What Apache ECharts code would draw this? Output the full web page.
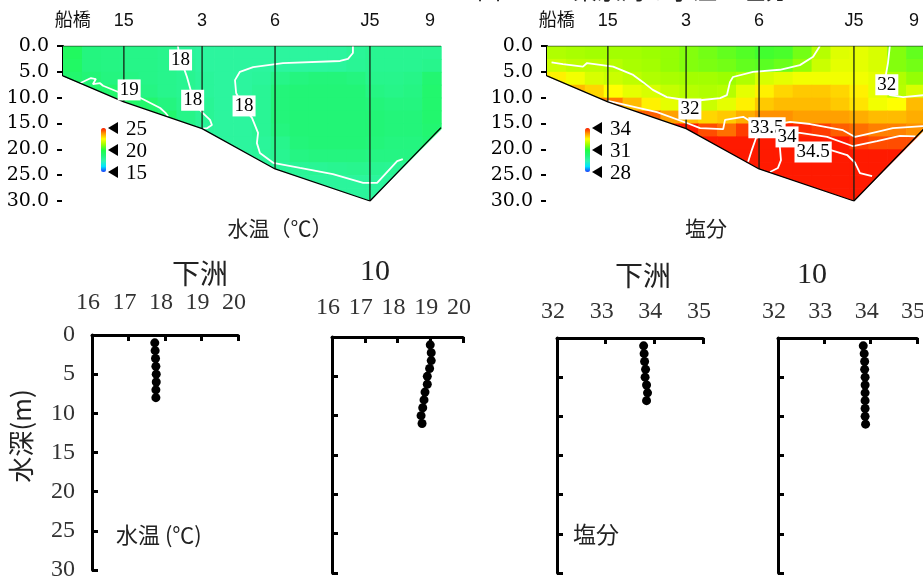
<!DOCTYPE html>
<html><head><meta charset="utf-8">
<script src="https://cdn.jsdelivr.net/npm/echarts@6/dist/echarts.min.js"></script>
<style>html,body{margin:0;padding:0;background:#fff}#c{width:923px;height:583px}</style>
</head><body><div id="c"></div>
<script>
// ---------------- data ----------------
const stationNames = ['船橋','15','3','6','J5','9'];
const stationDist = [2.6,16.1,36.8,56.1,81.2,97.1];
const bottomDist = [0,16.1,36.8,56.1,81.2,100];
const bottomDepth = [5.8,10.8,16.0,23.8,30.0,15.8];
const castDist = [16.1,36.8,56.1,81.2];
const castDepth = [10.8,16.0,23.8,30.0];
const gridDist = [0,5,10,15,20,25,30,35,40,45,50,55,60,65,70,75,80,85,90,95,100];
const gridDepth = [0,2.5,5,7.5,10,12.5,15,17.5,20,22.5,25,27.5,30];

const tempGrid = [
 [19.3,18.6,18.5,18.4,18.4,18.3,18.0,17.9,17.9,17.9,17.9,17.9,17.9,17.9,17.9,18.05,18.2,18.2,18.2,18.2],
 [19.2,18.6,18.5,18.4,18.4,18.3,18.1,17.9,17.9,17.9,17.9,17.9,17.9,17.9,17.95,18.1,18.2,18.2,18.2,18.3],
 [19.0,18.8,18.6,18.5,18.4,18.3,18.2,18.0,17.9,17.9,18.0,18.4,18.6,18.7,18.7,18.6,18.3,18.3,18.4,18.9],
 [19.0,19.0,19.0,18.7,18.5,18.3,18.2,18.0,17.9,17.9,18.1,18.7,18.8,18.8,18.8,18.8,18.5,18.4,18.5,19.0],
 [19.0,19.1,19.1,19.1,19.0,18.6,18.3,18.1,17.9,17.9,18.1,18.7,18.8,18.8,18.8,18.8,18.7,18.6,18.6,19.0],
 [19.0,19.1,19.1,19.2,19.1,19.0,18.4,18.1,17.9,17.9,18.1,18.7,18.8,18.8,18.8,18.8,18.8,18.7,18.7,19.0],
 [19.0,19.1,19.1,19.2,19.1,19.0,18.4,18.0,17.9,17.9,18.1,18.6,18.8,18.8,18.8,18.8,18.8,18.7,18.7,18.9],
 [19.0,19.1,19.1,19.2,19.1,19.0,18.4,18.0,17.9,17.9,18.0,18.3,18.7,18.8,18.8,18.8,18.7,18.6,18.6,18.8],
 [19.0,19.1,19.1,19.2,19.1,19.0,18.4,18.0,17.9,17.9,18.0,18.2,18.5,18.6,18.6,18.6,18.5,18.5,18.5,18.7],
 [19.0,19.1,19.1,19.2,19.1,19.0,18.4,18.0,17.9,17.9,18.0,18.0,18.05,18.1,18.2,18.25,18.2,18.15,18.1,18.2],
 [19.0,19.1,19.1,19.2,19.1,19.0,18.4,18.0,17.9,17.9,18.0,18.0,17.95,17.95,17.95,17.95,17.95,18.0,18.1,18.2],
 [19.0,19.1,19.1,19.2,19.1,19.0,18.4,18.0,17.9,17.9,18.0,18.0,17.95,17.95,17.95,17.95,17.95,17.95,18.0,18.1]
];
const salGrid = [
 [31.9,31.85,31.8,31.8,31.8,31.75,31.7,31.6,31.5,31.4,31.3,31.2,31.25,31.5,31.95,32.25,32.3,32.2,31.6,31.4],
 [32.1,32.0,32.0,31.95,31.85,31.8,31.7,31.6,31.55,31.5,31.4,31.35,31.45,31.7,32.1,32.3,32.3,32.2,31.6,31.5],
 [32.6,32.4,32.2,32.1,32.0,31.9,31.85,31.8,31.8,31.75,31.9,32.2,32.3,32.4,32.4,32.4,32.4,32.3,31.9,31.7],
 [33.0,33.0,32.8,32.5,32.3,32.2,32.05,31.95,31.9,31.95,32.3,32.6,32.8,32.9,32.9,32.8,32.6,32.3,31.95,32.2],
 [33.4,33.4,33.4,33.4,33.0,32.6,32.3,32.1,32.1,32.3,32.6,32.9,33.0,33.0,33.0,32.9,32.7,32.4,32.5,33.0],
 [33.6,33.6,33.6,33.6,33.6,33.6,33.2,33.0,32.8,32.9,33.1,33.3,33.3,33.2,33.2,33.2,33.1,33.0,33.0,33.1],
 [34.0,34.0,34.0,34.0,34.0,34.0,34.0,34.0,33.7,33.5,33.8,34.2,34.0,33.9,33.8,33.6,33.5,33.4,33.4,33.3],
 [34.3,34.3,34.3,34.3,34.3,34.3,34.3,34.3,34.3,34.2,34.4,34.5,34.4,34.2,34.1,34.0,33.8,33.7,33.7,33.7],
 [34.6,34.6,34.6,34.6,34.6,34.6,34.6,34.6,34.6,34.6,34.6,34.6,34.6,34.6,34.5,34.4,34.3,34.2,34.1,34.0],
 [34.7,34.7,34.7,34.7,34.7,34.7,34.7,34.7,34.7,34.7,34.7,34.7,34.7,34.7,34.6,34.6,34.5,34.4,34.3,34.3],
 [34.7,34.7,34.7,34.7,34.7,34.7,34.7,34.7,34.7,34.7,34.7,34.7,34.7,34.7,34.7,34.7,34.7,34.6,34.5,34.4],
 [34.7,34.7,34.7,34.7,34.7,34.7,34.7,34.7,34.7,34.7,34.7,34.7,34.7,34.7,34.7,34.7,34.7,34.7,34.6,34.5]
];

const tempContour18a = [[30.4,0],[30.7,1.7],[31.7,3.7],[32.8,6.0],[33.6,8.1],[34.4,10.3],[35.4,11.6],[37.0,13.0],[38.9,14.3],[39.4,15.3],[38.1,15.9],[37.0,16.0]];
const tempContour18b = [[76.7,0],[76.7,1.35],[75.4,2.5],[73.3,2.9],[58.2,3.3],[50.3,4.1],[46.8,5.0],[45.5,6.6],[45.8,9.1],[47.6,11.8],[50.0,13.9],[51.6,16.8],[51.3,18.8],[52.1,20.7],[55.6,22.6],[62.7,23.6],[71.4,24.8],[79.4,26.5],[83.1,26.5],[88.4,22.3],[89.9,21.9]];
const tempContour19 = [[4.5,7.2],[7.4,6.2],[8.7,6.4],[7.9,7.4],[9.8,7.2],[10.6,7.7],[15.3,9.1],[17.7,9.1],[21.2,10.3],[25.7,12.0],[27.2,13.0],[27.8,13.6]];
const tempLabels = [[31.1,2.7,'18'],[34.3,10.5,'18'],[47.9,11.6,'18'],[17.5,8.5,'19']];

const salContour32a = [[1.2,3.15],[4.2,3.5],[9.5,4.0],[10.6,3.3],[17.5,4.0],[22.8,5.6],[25.4,7.0],[28.0,8.5],[31.7,9.9],[37.0,10.5],[40.5,10.5],[45.8,10.1],[47.6,9.5],[48.4,7.0],[49.2,6.0],[54.5,5.0],[61.6,4.6],[66.9,3.7],[70.4,2.1],[72.2,0]];
const salContour32b = [[90.7,0],[90.2,3.3],[89.4,6.6],[90.7,9.5],[94.2,9.9],[100,9.5]];
const salContour335 = [[16.1,10.6],[29.1,12.8],[37.0,14.9],[40.5,15.9],[46.6,16.1],[47.1,14.3],[51.9,13.7],[56.3,15.7],[64.3,14.7],[69.6,15.1],[78.3,16.3],[81.5,17.6],[87.3,16.6],[91.5,15.9],[100,15.5]];
const salContour34 = [[53.2,22.4],[54.2,20.1],[55.3,17.8],[59.0,16.8],[66.9,16.8],[74.1,17.6],[81.0,19.4],[87.3,18.4],[93.4,17.4],[97.5,17.5]];
const salContour345a = [[61.6,19.5],[61.9,22.1],[61.1,23.6],[59.0,24.4]];
const salContour345b = [[74.9,20.1],[79.4,21.1],[81.5,22.6],[82.8,24.6],[86.0,25.2]];
const salLabels = [[37.8,12.2,'32'],[89.9,7.5,'32'],[58.2,15.8,'33.5'],[63.5,17.6,'34'],[70.4,20.5,'34.5']];

const tempBarTicks = [25,20,15];
const salBarTicks = [34,31,28];

const depthShimosu = [1,2,3,4,5,6,7,8];
const tempShimosu = [17.72,17.73,17.74,17.75,17.76,17.76,17.75,17.75];
const salShimosu = [33.78,33.79,33.80,33.82,33.81,33.84,33.86,33.84];
const depthSt10 = [1,2,3,4,5,6,7,8,9,10,11];
const tempSt10 = [19.0,19.03,19.03,18.98,18.91,18.91,18.84,18.81,18.77,18.72,18.75];
const salSt10 = [33.84,33.86,33.87,33.87,33.88,33.88,33.88,33.88,33.88,33.88,33.89];

// ---------------- styling ----------------
const rainbow = ['#1a3cff','#00e5ff','#30f5b0','#22f578','#20ff40','#9cff00','#ffff00','#ff9900','#ff1a00'];
const SERIF = '"Liberation Serif","DejaVu Serif",serif';
const DSERIF = '"DejaVu Serif",serif';
const CJK = '"Noto Sans CJK JP",sans-serif';
const SANS = '"Liberation Sans","Noto Sans CJK JP",sans-serif';

function cells(grid){
  const out=[];
  for(let r=0;r<grid.length;r++) for(let c=0;c<grid[r].length;c++)
    out.push([gridDist[c],gridDist[c+1],gridDepth[r],gridDepth[r+1],grid[r][c]]);
  return out;
}
function renderCell(params, api){
  const p0 = api.coord([api.value(0), api.value(2)]);
  const p1 = api.coord([api.value(1), api.value(3)]);
  return {type:'rect', shape:{x:Math.min(p0[0],p1[0]), y:Math.min(p0[1],p1[1]),
    width:Math.abs(p1[0]-p0[0])+0.7, height:Math.abs(p1[1]-p0[1])+0.7},
    style:{fill:api.visual('color')}};
}
function renderMask(params, api){
  const pts = bottomDist.map((d,i)=>api.coord([d,bottomDepth[i]]));
  pts[0] = [pts[0][0]-1, pts[0][1]];
  pts[pts.length-1] = [pts[pts.length-1][0]+2, pts[pts.length-1][1]];
  const br = api.coord([100,30]), bl = api.coord([0,30]);
  pts.push([br[0]+2, br[1]+3]); pts.push([bl[0]-1, bl[1]+3]);
  return {type:'polygon', shape:{points:pts}, style:{fill:'#fff'}};
}
function renderCast(params, api){
  const a = api.coord([api.value(0), 0]);
  const b = api.coord([api.value(0), api.value(1)]);
  return {type:'line', shape:{x1:a[0],y1:a[1],x2:b[0],y2:b[1]}, style:{stroke:'rgba(20,30,20,0.85)', lineWidth:1.5}};
}

function sectionSeries(gi, grid, contours, labels){
  const s = [];
  s.push({type:'custom', xAxisIndex:gi, yAxisIndex:gi, renderItem:renderCell, data:cells(grid),
    encode:{x:[0,1], y:[2,3]}, dimensions:['u0','u1','d0','d1','v'], z:1, silent:true});
  contours.forEach(c=>s.push({type:'line', xAxisIndex:gi, yAxisIndex:gi, data:c, symbol:'none',
    lineStyle:{color:'#fff', width:1.8}, z:3, silent:true}));
  s.push({type:'custom', xAxisIndex:gi, yAxisIndex:gi, renderItem:renderMask, data:[[0,0]], z:4, silent:true});
  s.push({type:'custom', xAxisIndex:gi, yAxisIndex:gi, renderItem:renderCast,
    data:castDist.map((d,i)=>[d,castDepth[i]]), z:5, silent:true});
  s.push({type:'line', xAxisIndex:gi, yAxisIndex:gi, data:bottomDist.map((d,i)=>[d,bottomDepth[i]]),
    symbol:'none', lineStyle:{color:'#000', width:1.3}, z:5, silent:true});
  s.push({type:'line', xAxisIndex:gi, yAxisIndex:gi, data:[[0,0],[100,0]],
    symbol:'none', lineStyle:{color:'rgba(20,40,20,0.8)', width:1.2}, z:5, silent:true});
  s.push({type:'scatter', xAxisIndex:gi, yAxisIndex:gi, symbolSize:0, z:6, silent:true,
    itemStyle:{opacity:1},
    data:labels.map(l=>({value:[l[0],l[1]], name:l[2]})),
    label:{show:true, position:'inside', formatter:'{b}', backgroundColor:'#fff', padding:[2,2,0,2],
      opacity:1, fontFamily:SERIF, fontSize:19, color:'#000'}});
  return s;
}

const grids = [
  {left:63, top:46, width:378, height:155},
  {left:547, top:46, width:378, height:155},
  {left:92, top:335, width:146, height:235},
  {left:332, top:337, width:131, height:236},
  {left:557, top:338, width:146, height:235},
  {left:778, top:338, width:139, height:235}
].map(g=>Object.assign(g,{containLabel:false, outerBoundsMode:'none'}));

function sectionX(gi){
  return {gridIndex:gi, type:'value', min:0, max:100, position:'top',
    axisLine:{show:false}, axisTick:{show:false}, splitLine:{show:false},
    axisLabel:{customValues:stationDist, margin:16, fontFamily:SANS, fontSize:18, color:'#111',
      formatter:v=>{let bi=0,bd=1e9;stationDist.forEach((s,i)=>{if(Math.abs(s-v)<bd){bd=Math.abs(s-v);bi=i;}});return stationNames[bi];}}};
}
function sectionY(gi){
  return {gridIndex:gi, type:'value', min:0, max:30, interval:5, inverse:true, offset:10,
    axisLine:{show:true, lineStyle:{color:'#000', width:2}},
    axisTick:{show:true, length:6, lineStyle:{color:'#000', width:2}},
    splitLine:{show:false},
    axisLabel:{margin:4, fontFamily:DSERIF, fontSize:19, color:'#000', formatter:v=>v.toFixed(1)}};
}
function profX(gi, min, max, margin){
  return {gridIndex:gi, type:'value', min:min, max:max, interval:1, position:'top',
    axisLine:{show:true, lineStyle:{color:'#000', width:3}},
    axisTick:{show:true, inside:true, length:6, lineStyle:{color:'#000', width:3}},
    splitLine:{show:false},
    axisLabel:{margin:margin, fontFamily:SERIF, fontSize:24, color:'#333', padding:[0,8,0,0]}};
}
function profY(gi, showLabel){
  return {gridIndex:gi, type:'value', min:0, max:30, interval:5, inverse:true,
    axisLine:{show:true, lineStyle:{color:'#000', width:3}},
    axisTick:{show:true, inside:true, length:6, lineStyle:{color:'#000', width:3}},
    splitLine:{show:false},
    axisLabel:{show:showLabel, margin:17, fontFamily:SERIF, fontSize:24, color:'#333'}};
}
function profSeries(gi, xs, ds){
  return {type:'scatter', xAxisIndex:gi, yAxisIndex:gi, symbol:'circle', symbolSize:9,
    itemStyle:{color:'#000', opacity:1}, data:xs.map((x,i)=>[x,ds[i]]), silent:true, z:3};
}

const series = [];
const tS = sectionSeries(0, tempGrid, [tempContour18a,tempContour18b,tempContour19], tempLabels);
const sS = sectionSeries(1, salGrid, [salContour32a,salContour32b,salContour335,salContour34,salContour345a,salContour345b], salLabels);
series.push(tS[0]); series.push(sS[0]);
series.push(...tS.slice(1)); series.push(...sS.slice(1));
series.push(profSeries(2, tempShimosu, depthShimosu));
series.push(profSeries(3, tempSt10, depthSt10));
series.push(profSeries(4, salShimosu, depthShimosu));
series.push(profSeries(5, salSt10, depthSt10));

// colorbar decorations
const BAR = {w:5, h:44};
const tBar = {left:101, top:128, min:15, max:25};
const sBar = {left:585, top:128, min:28, max:34};
function barDecor(bar, ticks){
  const els = [];
  ticks.forEach(v=>{
    const y = bar.top + (bar.max - v)/(bar.max - bar.min)*BAR.h;
    const x = bar.left + BAR.w + 2;
    els.push({type:'polygon', shape:{points:[[x,y],[x+10,y-6],[x+10,y+6]]}, style:{fill:'#000'}, z:100});
    els.push({type:'text', x:x+18, y:y+1, style:{text:String(v), font:'21px '+SERIF, fill:'#000',
      textAlign:'left', textVerticalAlign:'middle'}, z:100});
  });
  return els;
}
function txt(text, x, y, font, align, extra){
  return Object.assign({type:'text', x:x, y:y, z:100, style:{text:text, font:font, fill:'#222',
    textAlign:align||'center', textVerticalAlign:'middle'}}, extra||{});
}

const graphic = [
  {type:'text', x:477, y:2, z:100, style:{text:'図　　　東京湾の水温・塩分', font:'24px '+CJK, fill:'#222', textAlign:'left', textVerticalAlign:'bottom'}},
  txt('水温（℃）', 280, 228, '21px '+CJK),
  txt('塩分', 706, 228, '21px '+CJK),
  txt('下洲', 200, 273, '28px '+CJK),
  txt('10', 375, 272, '30px '+SERIF),
  txt('下洲', 643, 275, '28px '+CJK),
  txt('10', 812, 275, '30px '+SERIF),
  txt('水深(m)', 21, 436, '26px '+CJK, 'center', {rotation:Math.PI/2}),
  txt('水温 (℃)', 116, 535, '22px '+CJK, 'left'),
  txt('塩分', 573, 534, '23px '+CJK, 'left'),
  ...barDecor(tBar, tempBarTicks),
  ...barDecor(sBar, salBarTicks)
];

const option = {
  animation:false,
  backgroundColor:'#fff',
  grid:grids,
  xAxis:[sectionX(0), sectionX(1), profX(2,16,20,20), profX(3,16,20,17), profX(4,32,35,14), profX(5,32,35,14)],
  yAxis:[sectionY(0), sectionY(1), profY(2,true), profY(3,false), profY(4,false), profY(5,false)],
  visualMap:[
    {type:'continuous', seriesIndex:0, dimension:4, min:tBar.min, max:tBar.max, inRange:{color:rainbow},
     show:true, calculable:false, left:tBar.left, top:tBar.top, itemWidth:BAR.w, itemHeight:BAR.h, padding:0,
     text:null, hoverLink:false, z:50, zlevel:0},
    {type:'continuous', seriesIndex:1, dimension:4, min:sBar.min, max:sBar.max, inRange:{color:rainbow},
     show:true, calculable:false, left:sBar.left, top:sBar.top, itemWidth:BAR.w, itemHeight:BAR.h, padding:0,
     text:null, hoverLink:false, z:50, zlevel:0}
  ],
  series:series,
  graphic:graphic
};
const chart = echarts.init(document.getElementById('c'), null, {renderer:'canvas'});
chart.setOption(option);
</script>
</body></html>
